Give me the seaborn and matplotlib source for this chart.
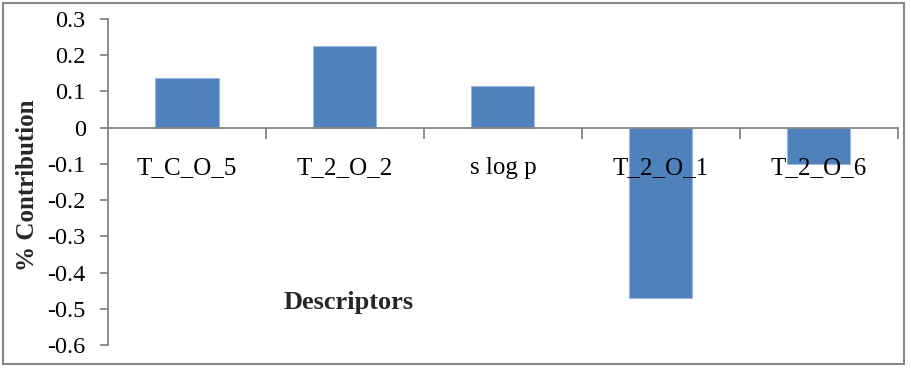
import matplotlib
matplotlib.use("Agg")
import matplotlib.pyplot as plt
from matplotlib.patches import Rectangle
from matplotlib.ticker import FixedLocator, MultipleLocator, FuncFormatter
import seaborn as sns
import pandas as pd

categories = ["T_C_O_5", "T_2_O_2", "s log p", "T_2_O_1", "T_2_O_6"]
values = [0.138, 0.226, 0.116, -0.471, -0.100]

sns.set_style("white")
plt.rcParams['font.family'] = ['Liberation Serif', 'DejaVu Serif']

W, H = 911, 369
fig = plt.figure(figsize=(W / 100, H / 100), dpi=100)
ax = fig.add_axes([108 / W, 1 - 345 / H, (897.7 - 108) / W, (345 - 19) / H])

df = pd.DataFrame({"Descriptor": categories, "Contribution": values})
sns.barplot(data=df, x="Descriptor", y="Contribution", ax=ax, color="#4F81BD",
            saturation=1, width=0.4, edgecolor="#9DB7DA", linewidth=0.8)
ax.set_axisbelow(False)

grey = "#868686"
ax.set_ylim(-0.6, 0.3)
ax.set_xlim(-0.5, len(categories) - 0.5)
ax.yaxis.set_major_locator(MultipleLocator(0.1))
ax.yaxis.set_major_formatter(FuncFormatter(lambda v, p: "0" if abs(v) < 1e-9 else f"{v:.1f}"))

for s in ["top", "right"]:
    ax.spines[s].set_visible(False)
ax.spines["left"].set_color(grey)
ax.spines["left"].set_linewidth(1.3)
ax.spines["bottom"].set_position(("data", 0))
ax.spines["bottom"].set_color(grey)
ax.spines["bottom"].set_linewidth(1.3)
for sp in ax.spines.values():
    sp.set_zorder(3)

# boundaries as major ticks, categories as minor tick labels
ax.xaxis.set_major_locator(FixedLocator([i + 0.5 for i in range(len(categories))]))
ax.xaxis.set_major_formatter(FuncFormatter(lambda v, p: ""))
ax.xaxis.set_minor_locator(FixedLocator(list(range(len(categories)))))
ax.set_xticks(list(range(len(categories))), labels=categories, minor=True)
ax.tick_params(axis="x", which="major", direction="out", length=8, width=1.3, color=grey, bottom=True)
ax.tick_params(axis="x", which="minor", length=0, pad=21, labelsize=18, labelcolor="black")
ax.tick_params(axis="y", direction="out", length=6, width=1.3, color=grey, left=True,
               labelsize=17.5, pad=10, labelcolor="black")
ax.set_xlabel("")
ax.set_ylabel("")

fig.text(28 / W, 1 - 185 / H, "% Contribution", rotation=90, ha="center", va="center",
         fontsize=18, fontweight="bold")
fig.text(349 / W, 1 - 303 / H, "Descriptors", ha="center", va="center",
         fontsize=19, fontweight="bold")

fig.patches.append(Rectangle((3 / W, 5 / H), (904 - 3) / W, (364 - 3) / H,
                             transform=fig.transFigure, fill=False,
                             edgecolor=grey, linewidth=1.5))

fig.savefig("out.png", dpi=100)
